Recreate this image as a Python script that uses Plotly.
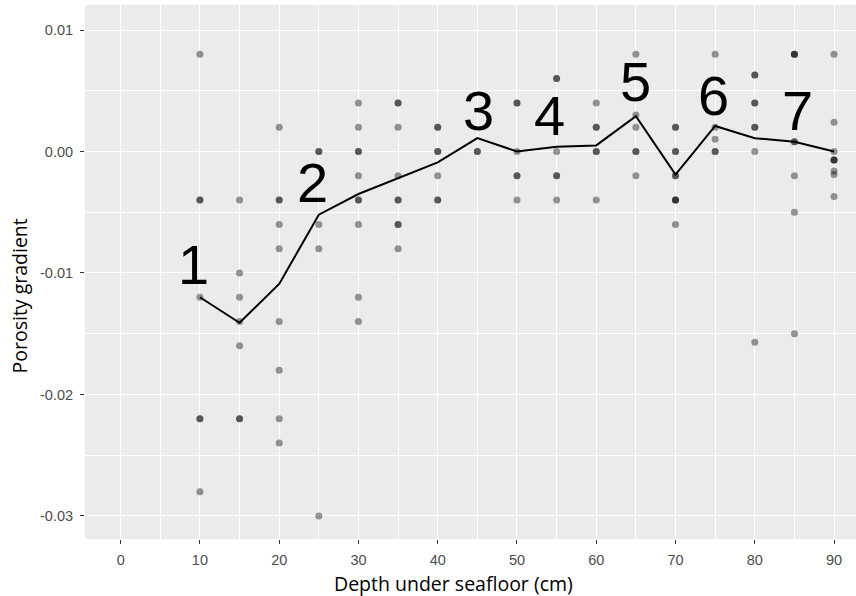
import plotly.graph_objects as go

# Porosity-gradient observations per sampling depth (cm)
depth_10 = [0.008, -0.004, -0.004, -0.012, -0.022, -0.022, -0.028]
depth_15 = [-0.004, -0.010, -0.012, -0.014, -0.016, -0.022, -0.022]
depth_20 = [0.002, -0.004, -0.004, -0.006, -0.008, -0.014, -0.018, -0.022, -0.024]
depth_25 = [0.000, 0.000, -0.006, -0.008, -0.030]
depth_30 = [0.004, 0.002, 0.000, 0.000, -0.002, -0.004, -0.004, -0.006, -0.012, -0.014]
depth_35 = [0.004, 0.004, 0.002, -0.002, -0.004, -0.004, -0.006, -0.006, -0.008]
depth_40 = [0.002, 0.002, 0.000, 0.000, -0.002, -0.004, -0.004]
depth_45 = [0.000, 0.000]
depth_50 = [0.004, 0.004, 0.000, -0.002, -0.002, -0.004]
depth_55 = [0.006, 0.006, 0.000, -0.002, -0.002, -0.004]
depth_60 = [0.004, 0.002, 0.002, 0.000, 0.000, -0.004]
depth_65 = [0.008, 0.003, 0.002, 0.000, 0.000, -0.002]
depth_70 = [0.002, 0.002, 0.000, 0.000, -0.002, -0.002, -0.004, -0.004, -0.004, -0.006]
depth_75 = [0.008, 0.002, 0.001, 0.000, 0.000]
depth_80 = [0.0063, 0.0063, 0.004, 0.004, 0.002, 0.002, 0.000, -0.0157]
depth_85 = [0.008, 0.008, 0.008, 0.0008, 0.0008, -0.002, -0.005, -0.015]
depth_90 = [0.008, 0.0024, 0.000, -0.0007, -0.0007, -0.0007, -0.0016, -0.0019, -0.0037]

observations = {
    10: depth_10, 15: depth_15, 20: depth_20, 25: depth_25, 30: depth_30,
    35: depth_35, 40: depth_40, 45: depth_45, 50: depth_50, 55: depth_55,
    60: depth_60, 65: depth_65, 70: depth_70, 75: depth_75, 80: depth_80,
    85: depth_85, 90: depth_90,
}

# Mean gradient per depth
mean_depth = [10, 15, 20, 25, 30, 35, 40, 45, 50, 55, 60, 65, 70, 75, 80, 85, 90]
mean_gradient = [-0.0120, -0.0141, -0.0109, -0.0052, -0.0035, -0.0022, -0.0009,
                 0.0011, 0.0000, 0.0004, 0.0005, 0.0029, -0.0019, 0.0021,
                 0.0011, 0.0008, 0.0000]

# Axis ticks
x_ticks = [0, 10, 20, 30, 40, 50, 60, 70, 80, 90]
y_ticks = [0.01, 0.00, -0.01, -0.02, -0.03]
y_tick_text = ["0.01", "0.00", "-0.01", "-0.02", "-0.03"]

# Zone numbers
zone_labels = ["1", "2", "3", "4", "5", "6", "7"]

pts_x, pts_y = [], []
for d, vals in observations.items():
    pts_x += [d] * len(vals)
    pts_y += vals

fig = go.Figure()
fig.add_trace(go.Scatter(
    x=pts_x, y=pts_y, mode="markers",
    marker=dict(size=7, color="rgba(0,0,0,0.4)", line=dict(width=0)),
    hoverinfo="skip", showlegend=False,
))
fig.add_trace(go.Scatter(
    x=mean_depth, y=mean_gradient, mode="lines",
    line=dict(color="black", width=2),
    showlegend=False,
))

# Placement of the zone numbers (centre of each digit)
label_anchor = [(9.25, -0.0093), (24.2, -0.00255), (45.2, 0.0034), (54.1, 0.0030),
                (64.9, 0.0058), (74.8, 0.0046), (85.45, 0.0034)]
annotations = []
for txt, (ax, ay) in zip(zone_labels, label_anchor):
    annotations.append(dict(
        x=ax, y=ay, xref="x", yref="y", text=txt, showarrow=False,
        xanchor="center", yanchor="middle",
        font=dict(family="Liberation Sans, Arial, sans-serif", size=56, color="black"),
    ))

annotations.append(dict(
    x=453, y=583, xref="paper", yref="paper", text="Depth under seafloor (cm)",
    showarrow=False, xanchor="center", yanchor="middle",
    font=dict(family="Open Sans, sans-serif", size=19.5, color="black"),
))
annotations.append(dict(
    x=18.5, y=296, xref="paper", yref="paper", text="Porosity gradient",
    showarrow=False, xanchor="center", yanchor="middle", textangle=-90,
    font=dict(family="Open Sans, sans-serif", size=19.5, color="black"),
))

W, H = 856, 596
L, R, T, B = 85, 0, 5, 57
pw, ph = W - L - R, H - T - B
# convert pixel-placed titles to paper coordinates
for a in annotations[-2:]:
    a["x"] = (a["x"] - L) / pw
    a["y"] = 1 - (a["y"] - T) / ph

tick_font = dict(family="Liberation Sans, Arial, sans-serif", size=14.5, color="#4d4d4d")

fig.update_layout(
    width=W, height=H,
    margin=dict(l=L, r=R, t=T, b=B, pad=0),
    paper_bgcolor="white", plot_bgcolor="#ebebeb",
    annotations=annotations,
    xaxis=dict(
        range=[-4.5, 92.77], tickvals=x_ticks, ticks="outside", ticklen=4,
        tickcolor="#333333", tickwidth=1, tickfont=tick_font, ticklabelstandoff=4,
        showgrid=True, gridcolor="white", gridwidth=1.2, zeroline=False,
        showline=False,
        minor=dict(dtick=5, tick0=0, showgrid=True, gridcolor="white", gridwidth=0.6),
    ),
    yaxis=dict(
        range=[-0.0319, 0.01206], tickvals=y_ticks, ticktext=y_tick_text,
        ticks="outside", ticklen=4, tickcolor="#333333", tickwidth=1,
        tickfont=tick_font, ticklabelstandoff=4,
        showgrid=True, gridcolor="white", gridwidth=1.2, zeroline=False,
        showline=False,
        minor=dict(dtick=0.005, tick0=0, showgrid=True, gridcolor="white", gridwidth=0.6),
    ),
)

fig.write_html("out.html")
